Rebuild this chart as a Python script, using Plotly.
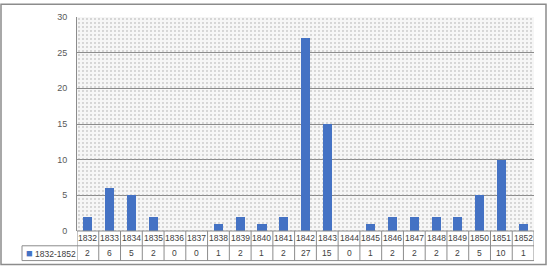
import plotly.graph_objects as go

years = list(range(1832, 1853))
values = [2, 6, 5, 2, 0, 0, 1, 2, 1, 2, 27, 15, 0, 1, 2, 2, 2, 2, 5, 10, 1]
series_name = "1832-1852"
y_ticks = [0, 5, 10, 15, 20, 25, 30]

W, H = 549, 268
L, R, T, B = 77, 534, 14, 231
pw, ph = R - L, B - T

def px_x(p):
    return (p - L) / pw

def px_y(p):
    return (B - p) / ph

bar_color = "#4472C4"
line_color = "#8c8c8c"
text_color = "#404040"
font_family = "Liberation Sans, Arial, sans-serif"
tsize = 8.5

fig = go.Figure()

# dotted plot-area fill (decorative)
fig.add_trace(go.Bar(
    x=[(years[0] + years[-1]) / 2], y=[y_ticks[-1]], width=[len(years)],
    marker=dict(color="rgba(0,0,0,0)", line=dict(width=0),
                pattern=dict(shape=".", fillmode="replace", fgcolor="#9a9a9a",
                             bgcolor="rgba(0,0,0,0)", size=4, solidity=0.08)),
    hoverinfo="skip", showlegend=False,
))

fig.add_trace(go.Bar(
    x=years, y=values, width=0.42, name=series_name,
    marker=dict(color=bar_color, line=dict(width=0)), showlegend=False,
))

shapes = []
annotations = []
row1_top, row1_bot, row2_bot = 0, px_y(246), px_y(261)
legend_left = px_x(22)

shapes.append(dict(type="line", xref="paper", yref="paper", x0=0, x1=1, y0=row1_top, y1=row1_top,
                   line=dict(color=line_color, width=1)))
shapes.append(dict(type="line", xref="paper", yref="paper", x0=legend_left, x1=1, y0=row1_bot, y1=row1_bot,
                   line=dict(color=line_color, width=1)))
shapes.append(dict(type="line", xref="paper", yref="paper", x0=legend_left, x1=1, y0=row2_bot, y1=row2_bot,
                   line=dict(color=line_color, width=1)))
shapes.append(dict(type="line", xref="paper", yref="paper", x0=legend_left, x1=legend_left, y0=row1_bot, y1=row2_bot,
                   line=dict(color=line_color, width=1)))
for i in range(len(years) + 1):
    xb = years[0] - 0.5 + i
    shapes.append(dict(type="line", xref="x", yref="paper", x0=xb, x1=xb, y0=row1_top, y1=row2_bot,
                       line=dict(color=line_color, width=1)))

for yr, v in zip(years, values):
    annotations.append(dict(x=yr, y=(row1_top + row1_bot) / 2, xref="x", yref="paper", text=str(yr),
                            showarrow=False, font=dict(size=tsize, color=text_color, family=font_family),
                            xanchor="center", yanchor="middle"))
    annotations.append(dict(x=yr, y=(row1_bot + row2_bot) / 2, xref="x", yref="paper", text=str(v),
                            showarrow=False, font=dict(size=tsize, color=text_color, family=font_family),
                            xanchor="center", yanchor="middle"))

annotations.append(dict(x=px_x(24), y=(row1_bot + row2_bot) / 2, xref="paper", yref="paper",
                        text="<span style='color:%s;font-size:11px'>■</span> %s" % (bar_color, series_name),
                        showarrow=False, font=dict(size=tsize, color=text_color, family=font_family),
                        xanchor="left", yanchor="middle"))

shapes.append(dict(type="rect", xref="paper", yref="paper", x0=px_x(1), x1=px_x(546), y0=px_y(265), y1=px_y(1),
                   line=dict(color="#8c8c8c", width=1.5), fillcolor="rgba(0,0,0,0)", layer="below"))

fig.update_layout(
    width=W, height=H,
    margin=dict(l=L, r=W - R, t=T, b=H - B, pad=0),
    paper_bgcolor="white", plot_bgcolor="#f6f6f6",
    barmode="overlay", bargap=0,
    font=dict(family=font_family, size=9, color="#595959"),
    shapes=shapes, annotations=annotations,
    xaxis=dict(range=[years[0] - 0.5, years[-1] + 0.5], showticklabels=False, showgrid=False,
               zeroline=False, showline=False, ticks="", fixedrange=True),
    yaxis=dict(range=[y_ticks[0], y_ticks[-1]], tickvals=y_ticks, showgrid=True, gridcolor="#8c8c8c",
               gridwidth=1, zeroline=False, showline=True, linecolor="#8c8c8c", linewidth=1,
               ticks="outside", ticklen=7, tickcolor="rgba(0,0,0,0)",
               tickfont=dict(size=9, color="#595959"), fixedrange=True),
)

fig.write_html("out.html", config={"displayModeBar": False},
               post_script="document.body.style.margin='0';document.body.style.overflow='hidden';")
